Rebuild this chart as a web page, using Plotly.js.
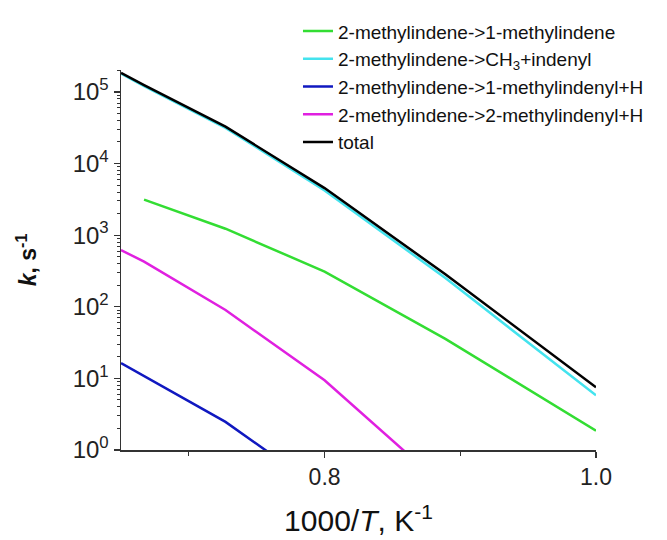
<!DOCTYPE html>
<html>
<head>
<meta charset="utf-8">
<script src="https://cdn.plot.ly/plotly-3.0.1.min.js"></script>
<style>html,body{margin:0;padding:0;background:#fff;}#chart{width:667px;height:540px;}</style>
</head>
<body>
<div id="chart"></div>
<script>
// 1000/T values (K^-1)
const xAll = [0.65, 0.667, 0.727, 0.8, 0.889, 1.0];
const xGreen = [0.667, 0.727, 0.8, 0.889, 1.0];

const names = [
  "2-methylindene->1-methylindene",
  "2-methylindene->CH<sub>3</sub>+indenyl",
  "2-methylindene->1-methylindenyl+H",
  "2-methylindene->2-methylindenyl+H",
  "total"
];

const kIsomer = [3130, 1230, 310, 35.6, 1.86];          // -> 1-methylindene
const kCH3 = [180000, 120000, 31500, 4200, 252, 5.8];    // -> CH3 + indenyl
const kH1 = [16.3, 10.8, 2.47, 0.26, 0.01, 0.0003];      // -> 1-methylindenyl + H
const kH2 = [620, 426, 90, 9.4, 0.3, 0.005];             // -> 2-methylindenyl + H
const kTotal = [184000, 124000, 32700, 4540, 284, 7.5];  // total

const xTickVals = [0.8, 1.0];
const xTickText = ["0.8", "1.0"];
const yTickVals = [1, 10, 100, 1000, 10000, 100000];
const yTickText = ["10<sup>0</sup>", "10<sup>1</sup>", "10<sup>2</sup>", "10<sup>3</sup>", "10<sup>4</sup>", "10<sup>5</sup>"];

const colors = ["#33dd33", "#44e3ee", "#1018c0", "#e020e0", "#000000"];

const font = "Arial, 'Liberation Sans', sans-serif";

const traces = [
  {x: xGreen, y: kIsomer, name: names[0]},
  {x: xAll, y: kCH3, name: names[1]},
  {x: xAll, y: kH1, name: names[2]},
  {x: xAll, y: kH2, name: names[3]},
  {x: xAll, y: kTotal, name: names[4]}
].map((t, i) => Object.assign(t, {
  type: "scatter", mode: "lines",
  line: {color: colors[i], width: 2.5}
}));

const layout = {
  width: 667, height: 540,
  margin: {l: 121, r: 71, t: 68, b: 90},
  paper_bgcolor: "#fff", plot_bgcolor: "#fff",
  font: {family: font, color: "#222"},
  showlegend: true,
  legend: {
    x: 0.3726, xanchor: "left", y: 1.152, yanchor: "top",
    bgcolor: "rgba(0,0,0,0)", borderwidth: 0,
    font: {family: font, size: 19, color: "#111"},
    tracegroupgap: 0
  },
  xaxis: {
    range: [0.65, 1.0],
    tickmode: "array", tickvals: xTickVals, ticktext: xTickText,
    ticks: "outside", ticklen: 6, tickwidth: 1.3, tickcolor: "#333",
    minor: {dtick: 0.1, tick0: 0.7, ticks: "outside", ticklen: 4, tickwidth: 1.2, tickcolor: "#333", showgrid: false},
    showline: true, linecolor: "#333", linewidth: 1.5,
    showgrid: false, zeroline: false,
    tickfont: {family: font, size: 23, color: "#222"},
    title: {text: "1000/<i>T</i>, K<sup>-1</sup>", font: {family: font, size: 30, color: "#111"}, standoff: 21}
  },
  yaxis: {
    type: "log", range: [0, 5.306],
    tickmode: "array", tickvals: yTickVals, ticktext: yTickText,
    ticks: "outside", ticklen: 6, tickwidth: 1.3, tickcolor: "#333",
    minor: {dtick: "D1", ticks: "outside", ticklen: 3, tickwidth: 1, tickcolor: "#333", showgrid: false},
    showline: true, linecolor: "#333", linewidth: 1.5,
    showgrid: false, zeroline: false,
    tickfont: {family: font, size: 24, color: "#222"},
    title: {text: "<b><i>k</i>, s<sup>-1</sup></b>", font: {family: font, size: 23, color: "#111"}, standoff: 29}
  }
};

Plotly.newPlot("chart", traces, layout, {displayModeBar: false, staticPlot: true});
</script>
</body>
</html>
